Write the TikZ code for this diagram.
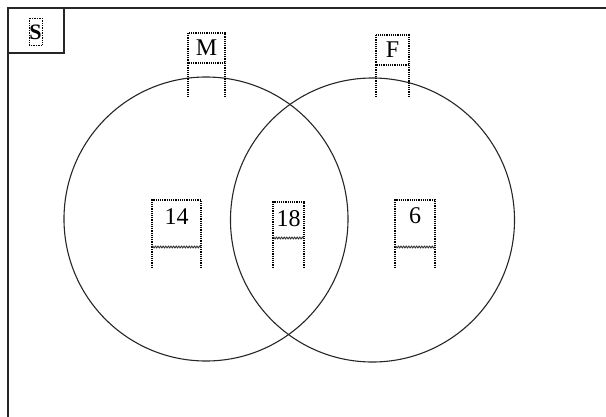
\documentclass[tikz,border=0pt]{standalone}
\usepackage{fontspec}
\setmainfont{Liberation Serif}
\usetikzlibrary{decorations.pathmorphing}
\tikzset{
  frame/.style={draw=black!85, line width=1.4},
  setc/.style={circle, draw=black!85, line width=1.1, minimum size=284, inner sep=0},
  lbl/.style={font=\fontsize{24}{24}\selectfont, inner sep=0, text=black},
  dots/.style={densely dotted, line width=1.2, black},
  squig/.style={decorate, decoration={snake, amplitude=0.9, segment length=2.6}, line width=0.9, black!80}
}
\begin{document}
\begin{tikzpicture}[x=1pt,y=-1pt]
\useasboundingbox (0,0) rectangle (606,416);
\clip (0,0) rectangle (606,416);
% universe frame
\draw[frame] (8,8) rectangle (640,440);
\node[frame, minimum width=56, minimum height=45, inner sep=0] (sbox) at (36,30.5) {};
\node[lbl, font=\fontsize{22}{22}\selectfont\bfseries] (S) at (35.5,32) {S};
\draw[dots, line width=0.7] (29,18) rectangle (42,45);
% sets
\node[setc] (A) at (206,219) {};
\node[setc] (B) at (372.5,220) {};
% labels
\node[lbl] (M) at (206.5,48) {M};
\draw[dots] (188,33) rectangle (225,63);
\draw[dots] (188,63) -- (188,97) (225,63) -- (225,97);
\node[lbl] (F) at (392.5,50) {F};
\draw[dots] (376,35) rectangle (409,65);
\draw[dots] (376,65) -- (376,97) (409,65) -- (409,97);
% numbers
\node[lbl] (n14) at (176.5,217) {14};
\draw[dots] (152,247) -- (152,200) -- (201,200) -- (201,247);
\draw[squig] (152,247) -- (201,247);
\draw[dots] (152,247) -- (152,267) (201,247) -- (201,267);
\node[lbl] (n18) at (288.5,219) {18};
\draw[dots] (273,238) -- (273,202) -- (304,202) -- (304,238);
\draw[squig] (273,238) -- (304,238);
\draw[dots] (273,238) -- (273,268) (304,238) -- (304,268);
\node[lbl] (n6) at (415,216) {6};
\draw[dots] (395,247) -- (395,200) -- (435,200) -- (435,247);
\draw[squig] (395,247) -- (435,247);
\draw[dots] (395,247) -- (395,267) (435,247) -- (435,267);
\end{tikzpicture}
\end{document}
